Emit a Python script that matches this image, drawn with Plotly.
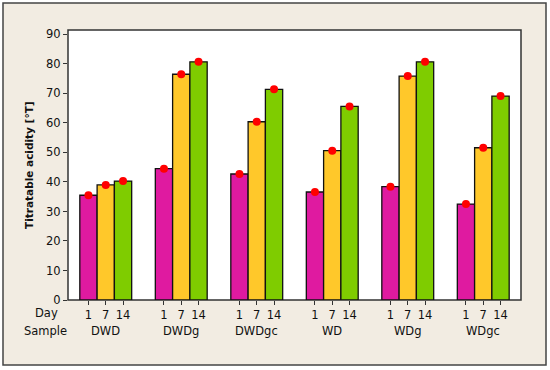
import plotly.graph_objects as go

samples = ["DWD", "DWDg", "DWDgc", "WD", "WDg", "WDgc"]
days = ["1", "7", "14"]
day1 = [35.5, 44.5, 42.7, 36.6, 38.4, 32.5]
day7 = [39.0, 76.5, 60.4, 50.6, 75.9, 51.6]
day14 = [40.3, 80.7, 71.4, 65.6, 80.7, 69.1]

series = [day1, day7, day14]
colors = ["#DF1AA0", "#FFC82A", "#7FCC00"]
bw = 0.229
offsets = [-bw, 0.0, bw]

fig = go.Figure()
for vals, col, off in zip(series, colors, offsets):
    xs = [i + off for i in range(len(samples))]
    fig.add_trace(go.Bar(x=xs, y=vals, width=bw, marker=dict(color=col, line=dict(color="#111111", width=1.3)),
                         showlegend=False, hoverinfo="y"))
for vals, off in zip(series, offsets):
    xs = [i + off for i in range(len(samples))]
    fig.add_trace(go.Scatter(x=xs, y=vals, mode="markers", marker=dict(color="#FF0000", size=8),
                             showlegend=False, hoverinfo="skip"))

tickvals = []
ticktext = []
for i in range(len(samples)):
    for d, off in zip(days, offsets):
        tickvals.append(i + off)
        ticktext.append(d)

L, R, T, B = 68, 29, 30, 70
W, H = 550, 370
pw, ph = W - L - R, H - T - B

def px_x(p):
    return (p - L) / pw

def px_y(p):
    return (H - B - p) / ph

font = "DejaVu Sans"
fs = 11.5
shapes = [
    dict(type="rect", xref="paper", yref="paper", x0=px_x(3), x1=px_x(546), y0=px_y(365), y1=px_y(3),
         fillcolor="#F2ECE2", line=dict(color="#444444", width=1.5), layer="below"),
    dict(type="rect", xref="paper", yref="paper", x0=0, x1=1, y0=0, y1=1,
         fillcolor="#FFFFFF", line=dict(color="#333333", width=1.5), layer="below"),
]

annotations = [
    dict(text="Day", xref="paper", yref="paper", x=px_x(46), y=px_y(313), showarrow=False,
         font=dict(family=font, size=fs, color="#111111"), xanchor="center", yanchor="middle"),
    dict(text="Sample", xref="paper", yref="paper", x=px_x(45), y=px_y(331), showarrow=False,
         font=dict(family=font, size=fs, color="#111111"), xanchor="center", yanchor="middle"),
    dict(text="<b>Titratable acidity [°T]</b>", xref="paper", yref="paper", x=px_x(29), y=0.5,
         textangle=-90, showarrow=False, font=dict(family=font, size=10.5, color="#111111"),
         xanchor="center", yanchor="middle"),
]
for i, s in enumerate(samples):
    annotations.append(dict(text=s, xref="x", yref="paper", x=i, y=px_y(331), showarrow=False,
                            font=dict(family=font, size=fs, color="#111111"),
                            xanchor="center", yanchor="middle"))

fig.update_layout(
    width=W, height=H,
    margin=dict(l=L, r=R, t=T, b=B),
    paper_bgcolor="#FFFFFF",
    plot_bgcolor="rgba(0,0,0,0)",
    barmode="overlay",
    shapes=shapes,
    annotations=annotations,
    font=dict(family=font, size=fs, color="#111111"),
    xaxis=dict(range=[-0.5, 5.5], tickvals=tickvals, ticktext=ticktext, ticks="outside", ticklen=4,
               tickcolor="#333333", showgrid=False, zeroline=False, showline=False,
               tickfont=dict(family=font, size=fs, color="#111111")),
    yaxis=dict(range=[0, 91.5], tickvals=list(range(0, 91, 10)), ticks="outside", ticklen=4,
               tickcolor="#333333", showgrid=False, zeroline=False, showline=False,
               tickfont=dict(family=font, size=fs, color="#111111")),
)

fig.write_html("out.html", config={"displayModeBar": False},
               post_script="document.body.style.margin='0px';document.body.style.padding='0px';")
